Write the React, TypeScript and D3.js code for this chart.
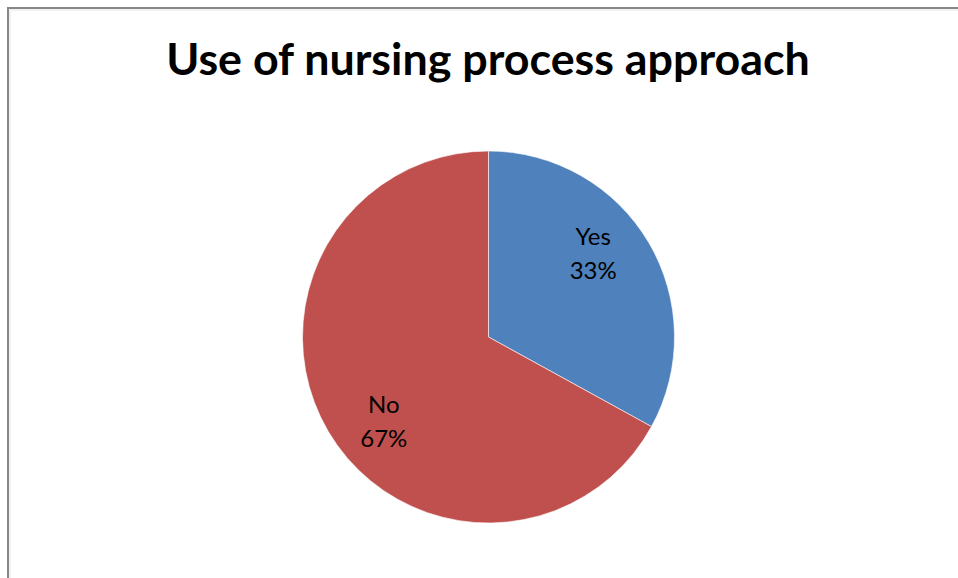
import React from "react";
import * as d3 from "d3";

const categories = ["Yes", "No"];
const values = [33, 67];
const colors = ["#4F81BD", "#C0504D"];
const title = "Use of nursing process approach";

export default function App() {
  const W = 958, H = 578;
  const cx = 488.5, cy = 337, r = 186;
  const pie = d3.pie<number>().sort(null).value((d) => d);
  const arcs = pie(values);
  const arc = d3.arc<d3.PieArcDatum<number>>().innerRadius(0).outerRadius(r);
  const labelR = 134;
  const shift = (8 * Math.PI) / 180;
  return (
    <svg width={W} height={H} style={{ position: "absolute", left: 0, top: 0 }}>
      <rect x={0} y={0} width={W} height={H} fill="#fff" />
      <path d={`M8,${H} V8 H${W}`} fill="none" stroke="#878787" strokeWidth={2} />
      <path d={`M10,${H} V10 H${W}`} fill="none" stroke="#e4e4e4" strokeWidth={1} />
      <text x={488} y={75} textAnchor="middle" fontFamily="Lato, 'Open Sans', sans-serif" fontWeight="bold" fontSize={44.8} fill="#000">
        {title}
      </text>
      <g transform={`translate(${cx},${cy})`}>
        {arcs.map((a, i) => (
          <path key={i} d={arc(a) || ""} fill={colors[i]} stroke="#fff" strokeWidth={1} strokeOpacity={0.6} />
        ))}
        {arcs.map((a, i) => {
          const mid = (a.startAngle + a.endAngle) / 2 - shift;
          const x = labelR * Math.sin(mid);
          const y = -labelR * Math.cos(mid);
          const pct = Math.round((values[i] / d3.sum(values)) * 100) + "%";
          return (
            <text key={"l" + i} x={x} y={y} textAnchor="middle" fontFamily="Lato, 'Open Sans', sans-serif" fontSize={24} fill="#000">
              <tspan x={x} dy={-8}>{categories[i]}</tspan>
              <tspan x={x} dy={34}>{pct}</tspan>
            </text>
          );
        })}
      </g>
    </svg>
  );
}
